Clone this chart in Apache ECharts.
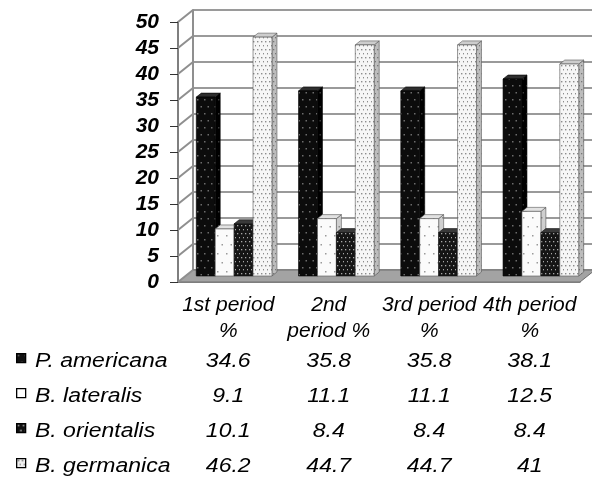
<!DOCTYPE html>
<html>
<head>
<meta charset="utf-8">
<script src="https://cdn.jsdelivr.net/npm/echarts@6/dist/echarts.min.js"></script>
<style>
  html, body { margin: 0; padding: 0; background: #fff; }
  #chart { width: 592px; height: 479px; }
</style>
</head>
<body>
<div id="chart"></div>
<script>
// ---- data ----
const categoryLabels = ['1st period\n%', '2nd\nperiod %', '3rd period\n%', '4th period\n%'];
const seriesNames = ['P. americana', 'B. lateralis', 'B. orientalis', 'B. germanica'];
const pAmericana = [34.6, 35.8, 35.8, 38.1];
const bLateralis = [9.1, 11.1, 11.1, 12.5];
const bOrientalis = [10.1, 8.4, 8.4, 8.4];
const bGermanica = [46.2, 44.7, 44.7, 41];
const yMin = 0, yMax = 50, yStep = 5;

const seriesValues = [pAmericana, bLateralis, bOrientalis, bGermanica];

// ---- layout ----
const FONT = '"Liberation Sans", Arial, sans-serif';
const FRONT = { left: 178, right: 12, top: 22, bottom: 197 };
const DEPTH_X = 15, DEPTH_Y = 12;           // wall depth
const BACK = { left: FRONT.left + DEPTH_X, right: FRONT.right - DEPTH_X,
               top: FRONT.top - DEPTH_Y, bottom: FRONT.bottom + DEPTH_Y };
const BARS = { left: 183, right: -3, top: 17.5, bottom: 203 };
const SLOT = 0.185;                          // bar slot as share of category width
const BAR_DX = 5, BAR_DY = 4;                // bar depth
const TABLE_TOP = 361, ROW_H = 35;
const TABLE_STRETCH = 1.15;                  // wide table lettering

// ---- fill patterns ----
function dotPattern(bg, dot, cell, dotSize, stagger) {
  const c = document.createElement('canvas');
  c.width = cell;
  c.height = stagger ? cell * 2 : cell;
  const g = c.getContext('2d');
  g.fillStyle = bg;
  g.fillRect(0, 0, c.width, c.height);
  g.fillStyle = dot;
  g.fillRect(1, 1, dotSize, dotSize);
  if (stagger) g.fillRect(1 + cell / 2, 1 + cell, dotSize, dotSize);
  return { image: c, repeat: 'repeat' };
}

const styles = [
  { front: dotPattern('#0c0c0c', '#6c6c6c', 7, 1.5, true),
    side: dotPattern('#000000', '#3a3a3a', 7, 1.5, true),
    top: '#2e2e2e', stroke: '#000', key: dotPattern('#111', '#777', 7, 1.5, true) },
  { front: dotPattern('#fbfbfb', '#9a9a9a', 9, 1.5, true),
    side: dotPattern('#cfcfcf', '#8a8a8a', 9, 1.5, true),
    top: '#e2e2e2', stroke: '#555', key: dotPattern('#fff', '#fff', 9, 1, false) },
  { front: dotPattern('#151515', '#a8a8a8', 4, 1.3, true),
    side: dotPattern('#0a0a0a', '#5a5a5a', 4, 1.3, true),
    top: '#3a3a3a', stroke: '#111', key: dotPattern('#111', '#bbb', 5, 1.5, true) },
  { front: dotPattern('#f6f6f6', '#8c8c8c', 4, 1.4, true),
    side: dotPattern('#bdbdbd', '#777', 4, 1.3, true),
    top: '#cdcdcd', stroke: '#555', key: dotPattern('#eee', '#666', 4, 1.5, true) }
];

// ---- 3D bar renderer ----
function barRenderer(k) {
  const st = styles[k];
  return function (params, api) {
    const ci = api.value(0), v = api.value(1);
    const topPt = api.coord([ci, v]);
    const basePt = api.coord([ci, 0]);
    const w = api.size([1, 0])[0] * SLOT;
    const x0 = topPt[0] + (k - 1.5) * w - w / 2;
    const x1 = x0 + w;
    const yt = topPt[1], yb = basePt[1];
    return {
      type: 'group',
      children: [
        { type: 'polygon',
          shape: { points: [[x1, yt], [x1 + BAR_DX, yt - BAR_DY], [x1 + BAR_DX, yb - BAR_DY], [x1, yb]] },
          style: { fill: st.side, stroke: st.stroke, lineWidth: 0.6 } },
        { type: 'polygon',
          shape: { points: [[x0, yt], [x0 + BAR_DX, yt - BAR_DY], [x1 + BAR_DX, yt - BAR_DY], [x1, yt]] },
          style: { fill: st.top, stroke: st.stroke, lineWidth: 0.6 } },
        { type: 'rect',
          shape: { x: x0, y: yt, width: w, height: yb - yt },
          style: { fill: st.front, stroke: st.stroke, lineWidth: 0.6 } }
      ]
    };
  };
}

const yTicks = [];
for (let t = yMin; t <= yMax; t += yStep) yTicks.push(t);

const chart = echarts.init(document.getElementById('chart'), null, { renderer: 'canvas' });

const hiddenCat = { type: 'category', data: categoryLabels, show: false };
const option = {
  animation: false,
  backgroundColor: '#fff',
  grid: [
    Object.assign({}, FRONT),
    Object.assign({}, BACK),
    Object.assign({}, BARS)
  ],
  xAxis: [
    { type: 'category', gridIndex: 0, data: categoryLabels,
      axisLine: { show: true, lineStyle: { color: '#6a6a6a', width: 1.5 } },
      axisTick: { show: false },
      axisLabel: { interval: 0, margin: 10, color: '#000', fontFamily: FONT,
                   fontStyle: 'italic', fontSize: 21, lineHeight: 26 } },
    Object.assign({ gridIndex: 1 }, hiddenCat),
    Object.assign({ gridIndex: 2 }, hiddenCat)
  ],
  yAxis: [
    { type: 'value', gridIndex: 0, min: yMin, max: yMax, interval: yStep,
      axisLine: { show: true, lineStyle: { color: '#7f7f7f', width: 2 } },
      axisTick: { show: true, length: 8, lineStyle: { color: '#333', width: 1 } },
      splitLine: { show: false },
      axisLabel: { margin: 19, color: '#000', fontFamily: FONT, fontStyle: 'italic',
                   fontWeight: 'bold', fontSize: 21 } },
    { type: 'value', gridIndex: 1, min: yMin, max: yMax, interval: yStep,
      axisLine: { show: true, lineStyle: { color: '#8f8f8f', width: 2 } },
      axisTick: { show: false },
      axisLabel: { show: false },
      splitLine: { show: true, lineStyle: { color: '#9a9a9a', width: 2 } } },
    { type: 'value', gridIndex: 2, min: yMin, max: yMax, show: false,
      splitLine: { show: false } }
  ],
  series: [
    // floor
    { type: 'custom', xAxisIndex: 0, yAxisIndex: 0, z: 1, silent: true,
      data: [[0, yMin]],
      renderItem: function (params, api) {
        const cs = params.coordSys;
        const y0 = api.coord([0, yMin])[1];
        return { type: 'polygon',
          shape: { points: [[cs.x, y0], [cs.x + DEPTH_X, y0 - DEPTH_Y],
                            [cs.x + cs.width + DEPTH_X, y0 - DEPTH_Y], [cs.x + cs.width, y0]] },
          style: { fill: '#a3a3a3', stroke: '#6e6e6e', lineWidth: 1 } };
      } },
    // left wall connectors
    { type: 'custom', xAxisIndex: 0, yAxisIndex: 0, z: 1, silent: true,
      data: yTicks.map(t => [0, t]),
      renderItem: function (params, api) {
        const cs = params.coordSys;
        const y = api.coord([0, api.value(1)])[1];
        return { type: 'line',
          shape: { x1: cs.x, y1: y, x2: cs.x + DEPTH_X, y2: y - DEPTH_Y },
          style: { stroke: '#8f8f8f', lineWidth: 2 } };
      } }
  ].concat(seriesNames.map((name, k) => ({
    type: 'custom', name: name, xAxisIndex: 2, yAxisIndex: 2, z: 3 + k,
    data: seriesValues[k].map((v, i) => [i, v]),
    encode: { x: 0, y: 1 },
    renderItem: barRenderer(k)
  })))
};
chart.setOption(option);

// ---- data table beneath the axis ----
const graphics = [];
seriesNames.forEach((name, k) => {
  const y = TABLE_TOP + k * ROW_H;
  graphics.push({ type: 'rect', left: 16, top: y - 8, z: 10,
    shape: { width: 9, height: 9 },
    style: { fill: styles[k].key, stroke: '#000', lineWidth: 1.3 } });
  graphics.push({ type: 'text', x: 35, y: y, z: 10, scaleX: TABLE_STRETCH,
    style: { text: name, font: 'italic 20px ' + FONT, fill: '#000',
             textAlign: 'left', textVerticalAlign: 'middle' } });
  seriesValues[k].forEach((v, i) => {
    const cx = chart.convertToPixel({ xAxisIndex: 0 }, i);
    graphics.push({ type: 'text', x: cx, y: y, z: 10, scaleX: TABLE_STRETCH,
      style: { text: String(v), font: 'italic 20px ' + FONT, fill: '#000',
               textAlign: 'center', textVerticalAlign: 'middle' } });
  });
});
chart.setOption({ graphic: graphics });
</script>
</body>
</html>
